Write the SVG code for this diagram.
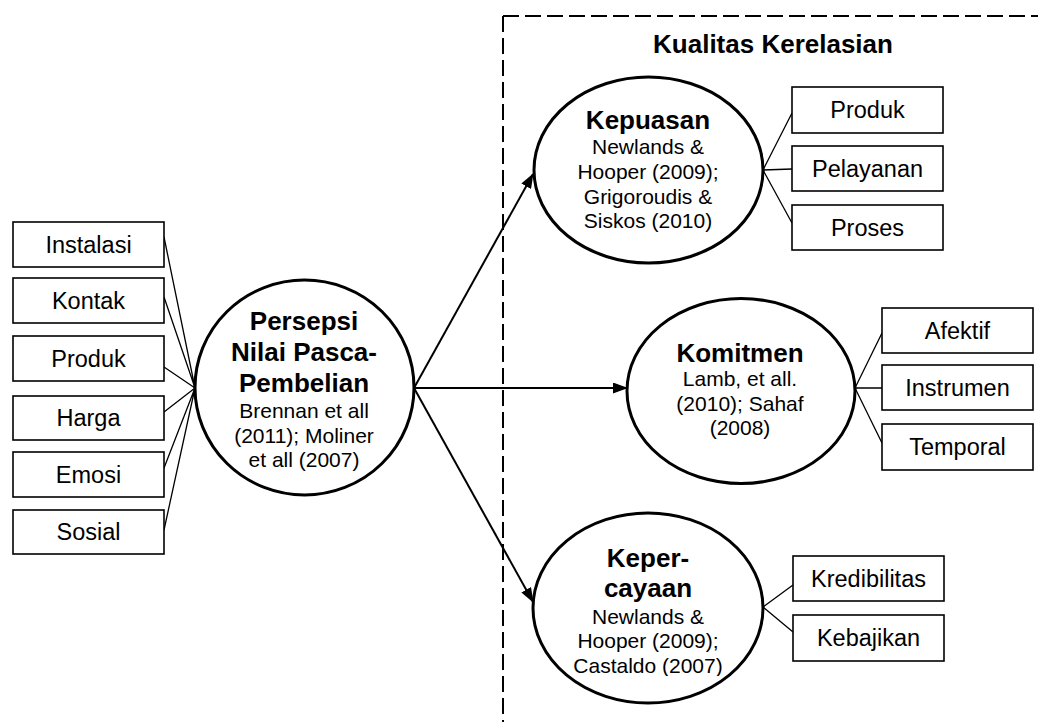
<svg xmlns="http://www.w3.org/2000/svg" width="1038" height="722" viewBox="0 0 1038 722">
<style>
text{font-family:"Liberation Sans",Arial,sans-serif;fill:#000;text-anchor:middle}
.box{fill:#fff;stroke:#000;stroke-width:1.6}
.ell{fill:#fff;stroke:#000;stroke-width:3}
.bt{font-size:23.5px}
.hd{font-size:26px;font-weight:bold}
.rf{font-size:21px}
.thin{stroke:#000;stroke-width:1.3;fill:none}
.arr{stroke:#000;stroke-width:2;fill:none;marker-end:url(#ah)}
.dash{stroke:#000;stroke-width:2;fill:none;stroke-dasharray:16 6}
</style>
<defs>
<marker id="ah" markerUnits="userSpaceOnUse" markerWidth="15" markerHeight="11" refX="14" refY="5.5" orient="auto">
<path d="M0,0 L15,5.5 L0,11 z" fill="#000"/>
</marker>
<clipPath id="clipK"><rect x="520" y="500" width="260" height="176"/></clipPath>
</defs>
<rect width="1038" height="722" fill="#fff"/>
<g id="frame">
<path class="dash" d="M503,16 H1038"/>
<path class="dash" d="M503,16 V722"/>
<text class="hd" x="773" y="53">Kualitas Kerelasian</text>
</g>
<g id="connectors">
<path class="thin" d="M164,237 L195,388 M164,297 L195,388 M164,367 L195,388 M164,412 L195,388 M164,468 L195,388 M164,530 L195,388"/>
<path class="arr" d="M414,388 L533,174"/>
<path class="arr" d="M414,388 L627,388"/>
<path class="arr" d="M414,388 L533,602"/>
<path class="thin" d="M763,170 L792,113 M763,170 L792,169 M763,170 L792,223"/>
<path class="thin" d="M855,388 L882,333 M855,388 L882,388 M855,388 L882,443"/>
<path class="thin" d="M763,607 L793,585 M763,607 L793,632"/>
</g>
<g id="instalasi"><rect class="box" x="13" y="222" width="151" height="45"/><text class="bt" x="88.5" y="253">Instalasi</text></g>
<g id="kontak"><rect class="box" x="13" y="278" width="151" height="45"/><text class="bt" x="88.5" y="309">Kontak</text></g>
<g id="produk1"><rect class="box" x="13" y="336" width="151" height="45"/><text class="bt" x="88.5" y="367">Produk</text></g>
<g id="harga"><rect class="box" x="13" y="396" width="151" height="44"/><text class="bt" x="88.5" y="426">Harga</text></g>
<g id="emosi"><rect class="box" x="13" y="452" width="151" height="45"/><text class="bt" x="88.5" y="483">Emosi</text></g>
<g id="sosial"><rect class="box" x="13" y="510" width="151" height="44"/><text class="bt" x="88.5" y="540">Sosial</text></g>
<g id="persepsi">
<ellipse class="ell" cx="304.5" cy="387.5" rx="109.5" ry="107.5"/>
<text class="hd" x="304" y="330">Persepsi</text>
<text class="hd" x="304" y="361">Nilai Pasca-</text>
<text class="hd" x="304" y="392">Pembelian</text>
<text class="rf" x="304" y="418">Brennan et all</text>
<text class="rf" x="304" y="443">(2011); Moliner</text>
<text class="rf" x="304" y="467">et all (2007)</text>
</g>
<g id="kepuasan">
<ellipse class="ell" cx="648.5" cy="170" rx="114.5" ry="93"/>
<text class="hd" x="648" y="129">Kepuasan</text>
<text class="rf" x="648" y="154">Newlands &amp;</text>
<text class="rf" x="648" y="179">Hooper (2009);</text>
<text class="rf" x="648" y="204">Grigoroudis &amp;</text>
<text class="rf" x="648" y="228">Siskos (2010)</text>
</g>
<g id="produk2"><rect class="box" x="792" y="87" width="151" height="46"/><text class="bt" x="867.5" y="118">Produk</text></g>
<g id="pelayanan"><rect class="box" x="792" y="146" width="151" height="45"/><text class="bt" x="867.5" y="177">Pelayanan</text></g>
<g id="proses"><rect class="box" x="792" y="205" width="151" height="45"/><text class="bt" x="867.5" y="236">Proses</text></g>
<g id="komitmen">
<ellipse class="ell" cx="741" cy="391" rx="114" ry="92.5"/>
<text class="hd" x="740" y="362">Komitmen</text>
<text class="rf" x="740" y="386">Lamb, et all.</text>
<text class="rf" x="740" y="411">(2010); Sahaf</text>
<text class="rf" x="740" y="435">(2008)</text>
</g>
<g id="afektif"><rect class="box" x="882" y="308" width="151" height="45"/><text class="bt" x="957.5" y="339">Afektif</text></g>
<g id="instrumen"><rect class="box" x="882" y="365" width="151" height="45"/><text class="bt" x="957.5" y="396">Instrumen</text></g>
<g id="temporal"><rect class="box" x="882" y="424" width="151" height="46"/><text class="bt" x="957.5" y="455">Temporal</text></g>
<g id="kepercayaan">
<ellipse class="ell" cx="648" cy="608" rx="115" ry="95"/>
<g clip-path="url(#clipK)">
<text class="hd" x="648" y="567">Keper-</text>
<text class="hd" x="648" y="597">cayaan</text>
<text class="rf" x="648" y="624">Newlands &amp;</text>
<text class="rf" x="648" y="648">Hooper (2009);</text>
<text class="rf" x="648" y="673">Castaldo (2007)</text>
</g>
</g>
<g id="kredibilitas"><rect class="box" x="793" y="556" width="151" height="45"/><text class="bt" x="868.5" y="587">Kredibilitas</text></g>
<g id="kebajikan"><rect class="box" x="793" y="615" width="151" height="46"/><text class="bt" x="868.5" y="646">Kebajikan</text></g>
</svg>
